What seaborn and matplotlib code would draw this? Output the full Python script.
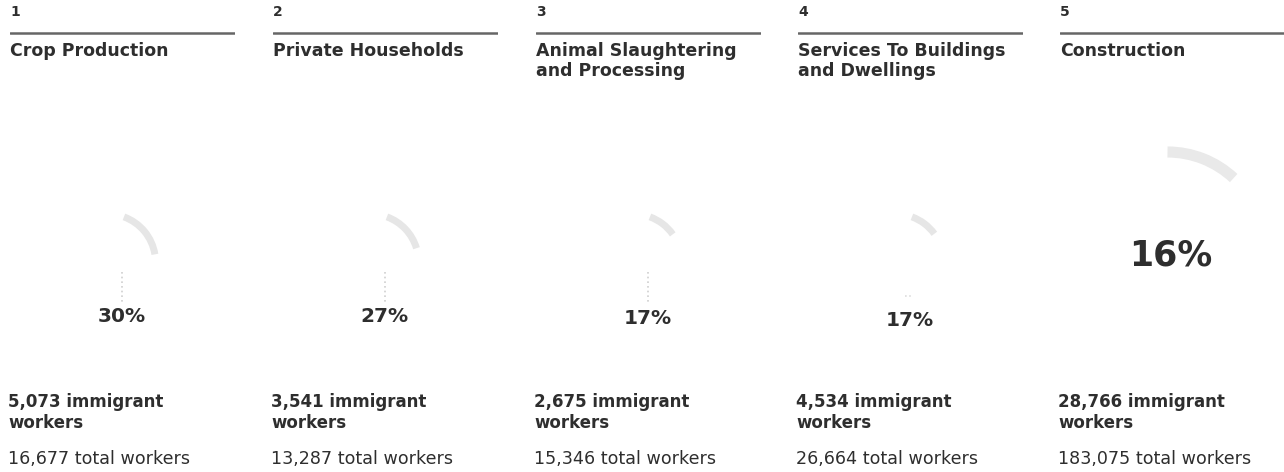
import matplotlib
matplotlib.use("Agg")
import matplotlib.pyplot as plt
from matplotlib.patches import Arc
import seaborn as sns

sns.set_theme(style="white")
plt.rcParams['font.family'] = ['DejaVu Sans']

ranks = [1, 2, 3, 4, 5]
industries = [["Crop Production"], ["Private Households"],
              ["Animal Slaughtering", "and Processing"],
              ["Services To Buildings", "and Dwellings"], ["Construction"]]
immigrant_workers = [5073, 3541, 2675, 4534, 28766]
total_workers = [16677, 13287, 15346, 26664, 183075]
share_labels = ["30%", "27%", "17%", "17%", "16%"]

W, H = 1284, 472
panel_left = [10, 273, 536, 798, 1060]
panel_width = 225
ink = "#2e2e2e"
pct_y = [317, 317, 319, 321, 256]

fig = plt.figure(figsize=(W / 100, H / 100), dpi=100)
fig.patch.set_facecolor("white")


def faint_arc(ax, cx, cy, r, a_from, a_to, lw, color="#e6e6e6"):
    # angles given as seen on screen (y axis runs downward here)
    ax.add_patch(Arc((cx, cy), 2 * r, 2 * r, theta1=-a_from, theta2=-a_to,
                     color=color, linewidth=lw, capstyle="butt"))


for i, x0 in enumerate(panel_left):
    ax = fig.add_axes([x0 / W, 0, panel_width / W, 1])
    ax.set_xlim(0, panel_width)
    ax.set_ylim(H, 0)
    ax.axis("off")

    # rank number and rule
    ax.text(0, 12, str(ranks[i]), fontsize=10, fontweight="bold",
            color=ink, va="center", ha="left")
    sns.lineplot(x=[0, panel_width], y=[33, 33], ax=ax, color="#666666",
                 linewidth=1.8, legend=False)

    # industry title
    for k, line in enumerate(industries[i]):
        ax.text(0, 51 + 20 * k, line, fontsize=12.5, fontweight="bold",
                color=ink, va="center", ha="left")

    cx = panel_width / 2
    share = immigrant_workers[i] / total_workers[i]
    if i == 4:
        faint_arc(ax, cx - 5, 249, 97, 90, 47, 8, "#e9e9e9")
        ax.text(cx - 2, pct_y[i], share_labels[i], fontsize=25,
                fontweight="bold", color=ink, va="center", ha="center")
    else:
        faint_arc(ax, cx - 15, 262, 48, 70, 70 - share * 200, 5)
        # faint dotted leader under the arc
        if i < 3:
            ax.plot([cx - 1, cx - 1], [272, 302], color="#cfcfcf",
                    linewidth=1.2, linestyle=(0, (1, 1.8)))
        else:
            ax.plot([cx - 6, cx + 2], [296, 296], color="#dddddd",
                    linewidth=1.2, linestyle=(0, (1, 1.5)))
        ax.text(cx - 1, pct_y[i], share_labels[i], fontsize=14.5,
                fontweight="bold", color=ink, va="center", ha="center")

    # counts
    ax.text(-2, 402, f"{immigrant_workers[i]:,} immigrant", fontsize=12,
            fontweight="bold", color=ink, va="center", ha="left")
    ax.text(-2, 423, "workers", fontsize=12, fontweight="bold", color=ink,
            va="center", ha="left")
    ax.text(-2, 459, f"{total_workers[i]:,} total workers", fontsize=12.6,
            color=ink, va="center", ha="left")

fig.savefig("out.png", dpi=100, facecolor="white")
